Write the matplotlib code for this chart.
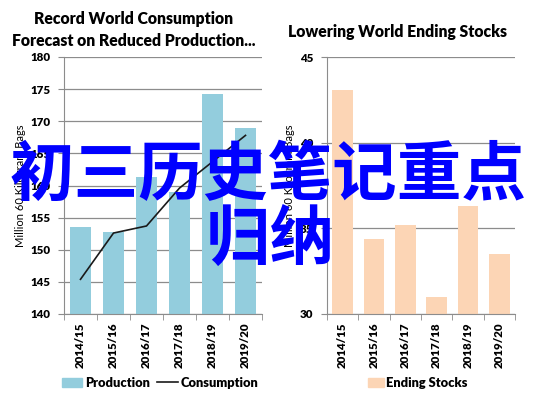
import matplotlib
matplotlib.use('Agg')
from matplotlib import pyplot as plt
from matplotlib.patches import Patch
from matplotlib.lines import Line2D
import numpy as np

years = ['2014/15', '2015/16', '2016/17', '2017/18', '2018/19', '2019/20']
production = [153.6, 152.7, 161.4, 159.0, 174.3, 168.9]
consumption = [145.4, 152.6, 153.7, 159.6, 163.7, 167.8]
ending_stocks = [43.1, 34.4, 35.2, 31.0, 36.3, 33.5]

W, H = 537, 399
blue = '#93cddd'
peach = '#fcd5b5'
grid = '#8c8c8c'
fam = ['Lato', 'DejaVu Sans']

fig = plt.figure(figsize=(W / 100, H / 100), dpi=100)


def box(x0, x1, y0, y1):
    return [x0 / W, 1 - y1 / H, (x1 - x0) / W, (y1 - y0) / H]


def style(ax, ticks):
    x = np.arange(len(years))
    ax.set_xlim(-0.5, len(years) - 0.5)
    ax.set_ylim(ticks[0], ticks[-1])
    ax.set_yticks(ticks)
    ax.set_yticklabels([str(t) for t in ticks], fontsize=8.3, fontweight='heavy', family=fam)
    ax.set_xticks(x)
    ax.set_xticklabels(years, rotation=90, fontsize=8.3, fontweight='heavy', family=fam)
    ax.set_xticks(np.arange(len(years) + 1) - 0.5, minor=True)
    ax.tick_params(axis='x', which='major', length=0, pad=6)
    ax.tick_params(axis='x', which='minor', length=4, color=grid, direction='out')
    ax.tick_params(axis='y', length=4, color=grid, pad=6)
    ax.grid(axis='y', color=grid, linewidth=0.9)
    ax.set_axisbelow(True)
    for s in ['top', 'right']:
        ax.spines[s].set_visible(False)
    for s in ['left', 'bottom']:
        ax.spines[s].set_color(grid)
    ax.set_ylabel('Million 60 Kilogram Bags', fontsize=8, family=fam, labelpad=3)
    return x


ax1 = fig.add_axes(box(64, 262, 57, 314))
x = style(ax1, [140, 145, 150, 155, 160, 165, 170, 175, 180])
ax1.bar(x, np.array(production) - 140, bottom=140, width=0.66, color=blue, zorder=2)
ax1.plot(x, consumption, color='#1a1a1a', linewidth=1.2, zorder=3)

ax2 = fig.add_axes(box(327, 515, 57, 314))
x = style(ax2, [30, 35, 40, 45])
ax2.bar(x, np.array(ending_stocks) - 30, bottom=30, width=0.65, color=peach, zorder=2)

fig.text(134 / W, 1 - 19 / H, 'Record World Consumption', ha='center', va='center',
         fontsize=11.3, fontweight='heavy', family=fam)
fig.text(134 / W, 1 - 41 / H, 'Forecast on Reduced Production...', ha='center', va='center',
         fontsize=11.3, fontweight='heavy', family=fam)
fig.text(398 / W, 1 - 32 / H, 'Lowering World Ending Stocks', ha='center', va='center',
         fontsize=11.3, fontweight='heavy', family=fam)

fig.legend(handles=[Patch(color=blue, label='Production'),
                    Line2D([], [], color='#1a1a1a', linewidth=1.2, label='Consumption')],
           loc='center', bbox_to_anchor=(160 / W, 1 - 383 / H), ncol=2, frameon=False,
           prop={'family': fam, 'weight': 'heavy', 'size': 9.3},
           handlelength=1.6, handletextpad=0.2, columnspacing=0.6)
fig.legend(handles=[Patch(color=peach, label='Ending Stocks')],
           loc='center', bbox_to_anchor=(418 / W, 1 - 383 / H), frameon=False,
           prop={'family': fam, 'weight': 'heavy', 'size': 9.3},
           handlelength=1.2, handletextpad=0.2)

cjk = ['Noto Sans CJK SC', 'DejaVu Sans']
fig.text(268 / W, 1 - 176 / H, '初三历史笔记重点', ha='center', va='center',
         fontsize=46.5, fontweight='bold', color='#0000ff', family=cjk)
fig.text(270 / W, 1 - 240 / H, '归纳', ha='center', va='center',
         fontsize=46.5, fontweight='bold', color='#0000ff', family=cjk)

fig.savefig('out.png', dpi=100)
